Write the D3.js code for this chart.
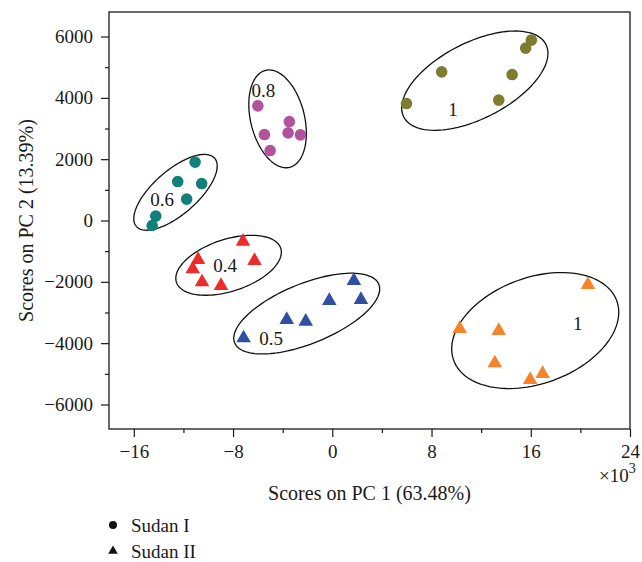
<!DOCTYPE html>
<meta charset="utf-8">
<title>PCA scores Sudan I / Sudan II</title>
<style>
	body { margin: 0; background-color: white; }
	text { font-family: "Liberation Serif", "Times New Roman", serif; fill: #1a1a1a; }
	.axis path { display: none; }
	.axis line { stroke: #1a1a1a; stroke-width: 1.2px; }
	.axis text { font-size: 19px; }
	.ellipse { fill: none; stroke: #111; stroke-width: 1.3px; }
</style>
<svg width="642" height="562"></svg>
<script src="https://d3js.org/d3.v7.min.js"></script>
<script>
// concentration labels of the six groups, first three Sudan I, last three Sudan II
var groupLabel = ["0.6", "0.8", "1", "0.4", "0.5", "1"];
var groupDye   = ["Sudan I", "Sudan I", "Sudan I", "Sudan II", "Sudan II", "Sudan II"];
var groupColor = ["#127f7b", "#b2519e", "#7f7c31", "#ee2a2a", "#2f4fa2", "#f5842a"];

// scores on PC 1 (x10^3)
var pc1 = [
  [-11.06, -12.46, -10.53, -11.74, -14.23, -14.52],
  [-6.00, -3.46, -5.47, -3.56, -2.57, -5.01],
  [16.05, 15.59, 8.82, 14.50, 5.98, 13.42],
  [-7.20, -6.27, -10.82, -11.25, -10.50, -8.97],
  [1.74, 2.31, -0.24, -3.67, -2.14, -7.15],
  [20.61, 10.27, 13.42, 13.10, 16.96, 15.95]
];
// scores on PC 2
var pc2 = [
  [1904, 1271, 1206, 698, 143, -163],
  [3739, 3227, 2804, 2859, 2794, 2282],
  [5881, 5620, 4848, 4760, 3814, 3925],
  [-685, -1314, -1281, -1584, -2008, -2129],
  [-1966, -2585, -2618, -3237, -3293, -3834],
  [-2096, -3531, -3596, -4649, -4998, -5193]
];

// confidence ellipses: centre and the two half-axis vectors, in data units
var ellCenter = [[-12.64, 919], [-4.41, 3315], [11.49, 4561], [-8.36, -1460], [-2.06, -3035], [16.36, -3589]];
var ellAxisA  = [[3.156, 1112], [0.973, -1581], [5.730, 1184], [4.205, 554], [5.813, 954], [6.574, 970]];
var ellAxisB  = [[1.160, -541], [-2.105, -213], [1.387, -1104], [0.646, -806], [0.904, -907], [1.457, -1624]];

// where the concentration labels sit
var labelPos = [[-13.71, 675], [-5.55, 4261], [9.73, 3609], [-8.63, -1467], [-4.93, -3834], [19.78, -3345]];

var xMajor = [-16, -8, 0, 8, 16, 24];
var xMinor = [-12, -4, 4, 12, 20];
var yMajor = [-6000, -4000, -2000, 0, 2000, 4000, 6000];
var yMinor = [-5000, -3000, -1000, 1000, 3000, 5000];

var svg = d3.select("svg");
var plotL = 109, plotR = 630, plotT = 12, plotB = 429;

var x = d3.scaleLinear().domain([-18, 24]).range([plotL, plotR]);
var y = d3.scaleLinear().domain([-6800, 6800]).range([plotB, plotT]);

// axes
svg.append("g").attr("class", "axis")
    .attr("transform", "translate(0," + plotB + ")")
    .call(d3.axisBottom(x).tickValues(xMajor).tickSize(8).tickPadding(8).tickFormat(d3.format("d")));
svg.append("g").attr("class", "axis")
    .attr("transform", "translate(0," + plotB + ")")
    .call(d3.axisBottom(x).tickValues(xMinor).tickSize(4).tickFormat(""));
svg.append("g").attr("class", "axis")
    .attr("transform", "translate(" + plotL + ",0)")
    .call(d3.axisLeft(y).tickValues(yMajor).tickSize(8).tickPadding(8).tickFormat(d3.format("d")));
svg.append("g").attr("class", "axis")
    .attr("transform", "translate(" + plotL + ",0)")
    .call(d3.axisLeft(y).tickValues(yMinor).tickSize(4).tickFormat(""));

svg.selectAll(".axis text").attr("fill", "#1a1a1a");

svg.append("rect")
    .attr("x", plotL).attr("y", plotT)
    .attr("width", plotR - plotL).attr("height", plotB - plotT)
    .attr("fill", "none").attr("stroke", "#1a1a1a").attr("stroke-width", 1.3);

// ellipses
var line = d3.line().x(function(p) { return x(p[0]); }).y(function(p) { return y(p[1]); }).curve(d3.curveLinearClosed);
svg.append("g").selectAll("path")
    .data(ellCenter)
    .enter().append("path")
    .attr("class", "ellipse")
    .attr("d", function(c, i) {
        var a = ellAxisA[i], b = ellAxisB[i];
        var pts = d3.range(0, 360, 3).map(function(deg) {
            var t = deg * Math.PI / 180;
            return [c[0] + Math.cos(t) * a[0] + Math.sin(t) * b[0],
                    c[1] + Math.cos(t) * a[1] + Math.sin(t) * b[1]];
        });
        return line(pts);
    });

// points
var circleSym = d3.symbol().type(d3.symbolCircle).size(106);
var triSym = d3.symbol().type(d3.symbolTriangle).size(92);
groupLabel.forEach(function(lbl, g) {
    var pts = pc1[g].map(function(v, k) { return [v, pc2[g][k]]; });
    svg.append("g").selectAll("path")
        .data(pts)
        .enter().append("path")
        .attr("d", groupDye[g] == "Sudan I" ? circleSym : triSym)
        .attr("transform", function(p) { return "translate(" + x(p[0]) + "," + y(p[1]) + ")"; })
        .attr("fill", groupColor[g]);
});

// concentration labels
svg.append("g").selectAll("text")
    .data(labelPos)
    .enter().append("text")
    .attr("x", function(p) { return x(p[0]); })
    .attr("y", function(p) { return y(p[1]); })
    .attr("dy", "0.35em")
    .attr("text-anchor", "middle")
    .style("font-size", "19px")
    .text(function(p, i) { return groupLabel[i]; });

// axis titles
svg.append("text")
    .attr("x", (plotL + plotR) / 2).attr("y", 500)
    .attr("text-anchor", "middle")
    .style("font-size", "20px")
    .text("Scores on PC 1 (63.48%)");

svg.append("text")
    .attr("transform", "translate(33," + ((plotT + plotB) / 2) + ") rotate(-90)")
    .attr("text-anchor", "middle")
    .style("font-size", "20px")
    .text("Scores on PC 2 (13.39%)");

var mult = svg.append("text")
    .attr("x", 599).attr("y", 482)
    .style("font-size", "19px");
mult.append("tspan").text("\u00d710");
mult.append("tspan").attr("dy", -9).style("font-size", "14px").text("3");

// legend
var legend = svg.append("g");
legend.append("path").attr("d", d3.symbol().type(d3.symbolCircle).size(50)())
    .attr("transform", "translate(113,525)").attr("fill", "#111");
legend.append("text").attr("x", 131).attr("y", 532).style("font-size", "19px").text("Sudan I");
legend.append("path").attr("d", d3.symbol().type(d3.symbolTriangle).size(40)())
    .attr("transform", "translate(113,551)").attr("fill", "#111");
legend.append("text").attr("x", 131).attr("y", 558).style("font-size", "19px").text("Sudan II");
</script>
